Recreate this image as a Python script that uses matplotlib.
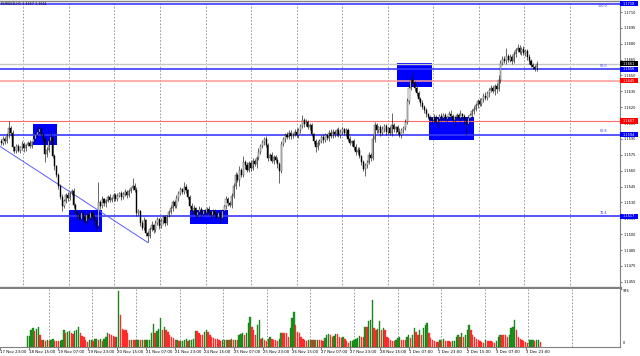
import matplotlib
matplotlib.use("Agg")
import matplotlib.pyplot as plt
import matplotlib.transforms as mtransforms
from matplotlib.patches import Rectangle
import numpy as np

# EURUSD H1, bar 0 = 18 Nov 14:00 ... bar 281 = 4 Dec 07:00
first_open = 1.1588
closes = [
    # 0-23
    1.1586, 1.1590, 1.1588, 1.1593, 1.1600, 1.1596, 1.1582, 1.1579, 1.1583, 1.1579, 1.1582, 1.1585,
    1.1581, 1.1584, 1.1586, 1.1583, 1.1587, 1.1590, 1.1594, 1.1597, 1.1599, 1.1595, 1.1590, 1.1576,
    # 24-47
    1.1580, 1.1588, 1.1592, 1.1574, 1.1564, 1.1556, 1.1546, 1.1535, 1.1527, 1.1531, 1.1537, 1.1534,
    1.1539, 1.1541, 1.1528, 1.1521, 1.1518, 1.1514, 1.1520, 1.1516, 1.1512, 1.1518, 1.1515, 1.1520,
    # 48-71
    1.1516, 1.1512, 1.1508, 1.1530, 1.1527, 1.1533, 1.1529, 1.1531, 1.1535, 1.1532, 1.1534, 1.1537,
    1.1533, 1.1536, 1.1539, 1.1535, 1.1538, 1.1540, 1.1537, 1.1541, 1.1544, 1.1546, 1.1542, 1.1520,
    # 72-95
    1.1522, 1.1511, 1.1506, 1.1513, 1.1501, 1.1498, 1.1505, 1.1509, 1.1504, 1.1511, 1.1514, 1.1508,
    1.1512, 1.1516, 1.1511, 1.1517, 1.1521, 1.1525, 1.1530, 1.1527, 1.1534, 1.1539, 1.1543, 1.1540,
    # 96-119
    1.1545, 1.1542, 1.1535, 1.1527, 1.1522, 1.1525, 1.1518, 1.1521, 1.1524, 1.1519, 1.1522, 1.1520,
    1.1524, 1.1521, 1.1518, 1.1522, 1.1519, 1.1516, 1.1520, 1.1515, 1.1522, 1.1527, 1.1533, 1.1529,
    # 120-143
    1.1528, 1.1536, 1.1546, 1.1556, 1.1551, 1.1561, 1.1556, 1.1568, 1.1565, 1.1561, 1.1567, 1.1563,
    1.1569, 1.1566, 1.1572, 1.1578, 1.1583, 1.1587, 1.1590, 1.1584, 1.1572, 1.1575, 1.1569, 1.1573,
    # 144-167
    1.1570, 1.1566, 1.1560, 1.1585, 1.1590, 1.1594, 1.1592, 1.1596, 1.1593, 1.1595, 1.1597, 1.1594,
    1.1598, 1.1602, 1.1608, 1.1604, 1.1606, 1.1601, 1.1603, 1.1595, 1.1588, 1.1582, 1.1586, 1.1588,
    # 168-191
    1.1592, 1.1589, 1.1594, 1.1591, 1.1596, 1.1593, 1.1597, 1.1595, 1.1598, 1.1594, 1.1597, 1.1599,
    1.1596, 1.1598, 1.1590, 1.1586, 1.1588, 1.1582, 1.1578, 1.1580, 1.1574, 1.1568, 1.1562, 1.1565,
    # 192-215
    1.1568, 1.1575, 1.1572, 1.1590, 1.1603, 1.1598, 1.1601, 1.1596, 1.1599, 1.1602, 1.1597, 1.1600,
    1.1596, 1.1603, 1.1599, 1.1601, 1.1597, 1.1594, 1.1598, 1.1600, 1.1606, 1.1626, 1.1638, 1.1646,
    # 216-239
    1.1643, 1.1638, 1.1633, 1.1628, 1.1624, 1.1620, 1.1617, 1.1614, 1.1611, 1.1609, 1.1608, 1.1611,
    1.1606, 1.1609, 1.1612, 1.1610, 1.1613, 1.1609, 1.1611, 1.1614, 1.1612, 1.1608, 1.1611, 1.1613,
    # 240-263
    1.1610, 1.1614, 1.1612, 1.1609, 1.1604, 1.1610, 1.1613, 1.1616, 1.1618, 1.1622, 1.1626, 1.1623,
    1.1628, 1.1631, 1.1629, 1.1633, 1.1636, 1.1638, 1.1635, 1.1640, 1.1637, 1.1646, 1.1662, 1.1666,
    # 264-281
    1.1664, 1.1668, 1.1665, 1.1667, 1.1664, 1.1670, 1.1674, 1.1676, 1.1672, 1.1675, 1.1671, 1.1673,
    1.1667, 1.1664, 1.1660, 1.1658, 1.1656, 1.1661,
]
# wick lengths in pips above / below the body
wick_up = [
    2, 3, 2, 3, 7, 2, 2, 1, 2, 2, 1, 3, 2, 1, 2, 3, 1, 2, 2, 3, 4, 2, 1, 2,
    2, 2, 6, 1, 2, 1, 2, 1, 3, 2, 2, 3, 1, 2, 3, 1, 2, 2, 3, 1, 2, 2, 3, 2,
    2, 3, 2, 19, 2, 3, 1, 2, 2, 3, 1, 2, 2, 3, 1, 2, 2, 3, 2, 2, 1, 7, 2, 3,
    2, 1, 2, 3, 1, 2, 2, 3, 1, 2, 2, 1, 3, 2, 2, 1, 2, 3, 2, 2, 3, 2, 2, 1,
    4, 2, 1, 2, 2, 3, 1, 2, 3, 2, 1, 2, 2, 3, 1, 2, 2, 1, 2, 3, 2, 1, 3, 2,
    2, 3, 2, 3, 2, 3, 2, 6, 2, 3, 2, 2, 3, 2, 2, 3, 2, 2, 2, 3, 2, 2, 3, 2,
    2, 3, 2, 3, 2, 2, 3, 2, 2, 1, 2, 3, 2, 2, 5, 2, 3, 2, 2, 2, 1, 2, 3, 2,
    2, 3, 2, 1, 2, 3, 2, 1, 2, 3, 2, 2, 1, 2, 2, 3, 1, 2, 3, 2, 2, 1, 2, 2,
    2, 3, 2, 4, 3, 2, 1, 2, 3, 2, 2, 1, 2, 12, 2, 1, 2, 3, 2, 2, 3, 3, 4, 3,
    7, 2, 3, 2, 2, 3, 2, 2, 1, 2, 2, 3, 2, 1, 2, 3, 2, 2, 1, 2, 3, 2, 1, 2,
    2, 3, 1, 2, 2, 3, 2, 2, 3, 2, 2, 3, 1, 2, 3, 2, 2, 3, 2, 2, 3, 4, 3, 2,
    2, 8, 2, 3, 2, 3, 2, 4, 3, 2, 3, 2, 2, 3, 2, 2, 2, 3,
]
wick_dn = [
    2, 2, 3, 2, 2, 3, 3, 2, 2, 1, 2, 2, 3, 2, 1, 2, 2, 1, 2, 2, 1, 2, 3, 8,
    3, 2, 2, 2, 3, 2, 3, 2, 5, 2, 2, 3, 2, 2, 3, 2, 3, 2, 2, 3, 2, 2, 3, 2,
    2, 3, 5, 2, 3, 2, 2, 3, 1, 2, 2, 3, 2, 2, 1, 3, 2, 2, 3, 2, 2, 2, 2, 3,
    2, 3, 2, 2, 3, 5, 2, 2, 3, 2, 2, 3, 2, 2, 3, 2, 1, 2, 3, 2, 2, 3, 2, 2,
    2, 3, 2, 2, 3, 2, 3, 2, 2, 3, 2, 2, 2, 3, 2, 2, 3, 2, 2, 4, 2, 2, 3, 2,
    2, 3, 2, 3, 2, 5, 2, 2, 3, 2, 2, 3, 2, 2, 3, 2, 2, 2, 3, 2, 3, 2, 2, 3,
    2, 3, 12, 2, 2, 3, 2, 2, 3, 2, 2, 2, 3, 2, 2, 3, 2, 2, 3, 2, 3, 4, 2, 2,
    2, 3, 2, 2, 3, 2, 2, 3, 2, 2, 3, 2, 2, 3, 2, 2, 3, 2, 3, 2, 2, 3, 2, 7,
    2, 2, 3, 2, 3, 2, 2, 3, 2, 2, 3, 2, 2, 3, 2, 3, 2, 2, 3, 2, 2, 2, 3, 2,
    2, 3, 2, 2, 3, 2, 2, 3, 2, 2, 3, 2, 2, 6, 2, 3, 2, 2, 3, 2, 2, 2, 6, 2,
    2, 3, 3, 6, 10, 2, 2, 3, 2, 2, 3, 2, 2, 3, 2, 2, 3, 2, 2, 3, 4, 2, 3, 2,
    2, 3, 2, 2, 3, 2, 3, 2, 2, 3, 2, 3, 2, 3, 2, 2, 2, 2,
]
volumes = [
    185, 190, 290, 330, 280, 310, 345, 205, 115, 120, 100, 115, 100, 110, 125, 105, 95, 90, 100, 120, 285, 245, 255, 270,
    245, 215, 280, 295, 340, 230, 190, 165, 120, 80, 110, 115, 105, 125, 128, 118, 125, 105, 128, 160, 230, 220, 195, 180,
    165, 175, 976, 550, 310, 295, 290, 230, 118, 120, 118, 115, 117, 119, 116, 118, 110, 115, 117, 120, 245, 395, 230, 280,
    315, 500, 290, 350, 295, 260, 200, 175, 145, 115, 117, 88, 100, 105, 120, 130, 105, 115, 117, 128, 280, 265, 245, 210,
    195, 250, 290, 250, 205, 175, 150, 140, 125, 115, 100, 110, 118, 115, 120, 117, 125, 115, 118, 117, 205, 222, 233, 205,
    233, 420, 525, 340, 292, 205, 380, 467, 130, 145, 117, 88, 130, 165, 140, 117, 117, 105, 130, 233, 233, 233, 233, 165,
    320, 495, 610, 380, 260, 245, 165, 130, 117, 105, 110, 117, 115, 120, 112, 117, 115, 110, 105, 145, 205, 222, 205, 175,
    185, 222, 222, 165, 155, 165, 130, 88, 70, 88, 105, 117, 130, 145, 185, 165, 165, 340, 340, 440, 467, 820, 320, 290,
    305, 450, 290, 320, 290, 165, 155, 117, 105, 88, 117, 145, 160, 117, 117, 117, 160, 205, 145, 205, 320, 260, 205, 290,
    205, 320, 380, 420, 245, 150, 117, 105, 85, 85, 117, 90, 140, 105, 88, 88, 80, 88, 105, 160, 200, 170, 230, 165,
    200, 290, 380, 290, 200, 160, 140, 117, 100, 80, 70, 117, 105, 105, 100, 80, 70, 90, 160, 205, 205, 205, 205, 165,
    205, 320, 340, 465, 290, 160, 140, 117, 100, 85, 70, 110, 117, 120, 105, 110, 117, 80,
]
assert len(closes) == len(wick_up) == len(wick_dn) == len(volumes) == 282

tick_bars = list(range(-15, 282, 16))
tick_labels = ["17 Nov 23:00", "18 Nov 15:00", "19 Nov 07:00", "19 Nov 23:00", "20 Nov 15:00",
               "21 Nov 07:00", "21 Nov 23:00", "24 Nov 15:00", "25 Nov 07:00", "25 Nov 23:00",
               "26 Nov 15:00", "27 Nov 07:00", "27 Nov 23:00", "28 Nov 15:00", "1 Dec 07:00",
               "1 Dec 23:00", "2 Dec 15:00", "3 Dec 07:00", "3 Dec 23:00"]
price_ticks = [1.1455, 1.1470, 1.1485, 1.1500, 1.1515, 1.1530, 1.1545, 1.1560, 1.1575, 1.1590,
               1.1605, 1.1620, 1.1635, 1.1650, 1.1665, 1.1680, 1.1695, 1.1710]

# fibo levels, support/resistance, zones, trendline
fib_levels = [1.1718, 1.1656, 1.1594, 1.1517]
fib_names = ["100.0", "50.0", "61.8", "76.4"]
red_levels = [1.1645, 1.1607]
last_price = 1.1661
# zones: (bar from, bar to, price low, price high)
zones = [(16.7, 29.3, 1.15843, 1.16041),
         (35.6, 52.9, 1.15020, 1.15228),
         (99.1, 119.0, 1.15096, 1.15228),
         (207.7, 226.1, 1.16391, 1.16618),
         (224.5, 248.1, 1.15890, 1.16107)]
trend_bars = [-0.6, 77.1]
trend_prices = [1.1583, 1.1492]
vol_max = 976

W, H = 640, 356
fig = plt.figure(figsize=(W / 100, H / 100), dpi=100)
fig.patch.set_facecolor("white")
ax = fig.add_axes([0, 1 - 287.5 / H, 620 / W, 286.5 / H])
axv = fig.add_axes([0, 1 - 346.5 / H, 620 / W, 57.5 / H])

xlim = (-0.574, 324.7)
for a in (ax, axv):
    a.set_xlim(*xlim)
    a.set_facecolor("white")
    for s in a.spines.values():
        s.set_color("#808080")
    a.spines["left"].set_visible(False)
    for k in range(13):
        a.axvline(11.65 + 23.9 * k, color="#8c8c8c", lw=0.6, ls=(0, (2, 2)), zorder=1)

ax.set_ylim(1.14496, 1.17204)
ax.spines["bottom"].set_linewidth(2.4)
ax.spines["top"].set_linewidth(1.0)
axv.spines["top"].set_visible(False)

# zones
for b0, b1, p0, p1 in zones:
    ax.add_patch(Rectangle((b0, p0), b1 - b0, p1 - p0, color="#0000ff", lw=0, zorder=2))

# levels
for lv in fib_levels:
    ax.axhline(lv, color="#3a3aff", lw=1.2, zorder=2.5)
ax.axhline(red_levels[0], color="#ff9a9a", lw=1.1, zorder=2.5)
ax.axhline(red_levels[1], color="#ff6a6a", lw=0.8, zorder=2.5)
ax.axhline(last_price, color="#c8c8c8", lw=1.0, zorder=2.4)
ax.plot(trend_bars, trend_prices, color="#5a5aff", lw=0.7, zorder=2.5)

# candles
c = np.array(closes)
o = np.r_[first_open, c[:-1]]
hi = np.maximum(o, c) + np.array(wick_up) * 0.0001
lo = np.minimum(o, c) - np.array(wick_dn) * 0.0001
idx = np.arange(len(c))
up = c >= o
body = np.maximum(np.abs(c - o), 0.00004)
ax.vlines(idx, lo, hi, color="#111111", lw=0.45, zorder=3)
ax.bar(idx[up], body[up], bottom=o[up], width=0.55, color="white",
       edgecolor="#222222", linewidth=0.3, zorder=4)
ax.bar(idx[~up], body[~up], bottom=c[~up], width=0.55, color="black",
       edgecolor="black", linewidth=0.3, zorder=4)

# price axis
ax.yaxis.tick_right()
ax.set_yticks(price_ticks)
ax.set_yticklabels([f"{p:.4f}" for p in price_ticks])
ax.tick_params(axis="y", labelsize=2.5, length=1.5, pad=1.2, color="#808080", labelcolor="black")
ax.set_xticks([])

trans = mtransforms.blended_transform_factory(ax.transAxes, ax.transData)
box_h = 5.2 / 10578
tags = [(fib_levels[0], "#0000ff", "white"), (last_price, "black", "white"),
        (fib_levels[1], "#0000ff", "white"), (red_levels[0], "#ff0000", "white"),
        (red_levels[1], "#ff0000", "white"), (fib_levels[2], "#0000ff", "white"),
        (fib_levels[3], "#0000ff", "white")]
for lv, fc, tc in tags:
    ax.add_patch(Rectangle((1.0, lv - box_h / 2), 17.5 / 620, box_h, transform=trans,
                           color=fc, lw=0, clip_on=False, zorder=6))
    ax.text(1.0 + 8.75 / 620, lv, f"{lv:.4f}", transform=trans, ha="center", va="center",
            fontsize=2.5, color=tc, clip_on=False, zorder=7)
for lv, name in zip(fib_levels, fib_names):
    top = lv == fib_levels[0]
    ax.text(607 / 620, lv - 0.00006 if top else lv + 0.00012, name, transform=trans,
            ha="right", va="top" if top else "bottom",
            fontsize=2.4, color="#3a3aff", zorder=5)

fig.text(1 / W, 1 - 4 / H, "EURUSD,H1 1.1657 1.1661", fontsize=2.4, color="black",
         va="center", ha="left")

# volumes
v = np.array(volumes)
green = np.r_[True, v[1:] > v[:-1]]
axv.bar(idx, v, width=0.72, color=np.where(green, "#1f9a1f", "#ff2b2b"),
        edgecolor=np.where(green, "#0b6b0b", "#ff2b2b"), linewidth=0.25, zorder=3)
axv.set_ylim(0, 57.5 / 0.0571)
axv.set_yticks([])
vtrans = mtransforms.blended_transform_factory(axv.transAxes, axv.transData)
axv.text(1.005, vol_max, str(vol_max), transform=vtrans,
         fontsize=2.5, va="center", ha="left", clip_on=False)
axv.text(1.005, 65, "0", transform=vtrans,
         fontsize=2.5, va="center", ha="left", clip_on=False)
axv.set_xticks(tick_bars)
axv.set_xticklabels(tick_labels, ha="left")
axv.tick_params(axis="x", labelsize=2.8, length=2.0, pad=0.8, color="#808080", labelcolor="black")

fig.savefig("out.png", dpi=100)
